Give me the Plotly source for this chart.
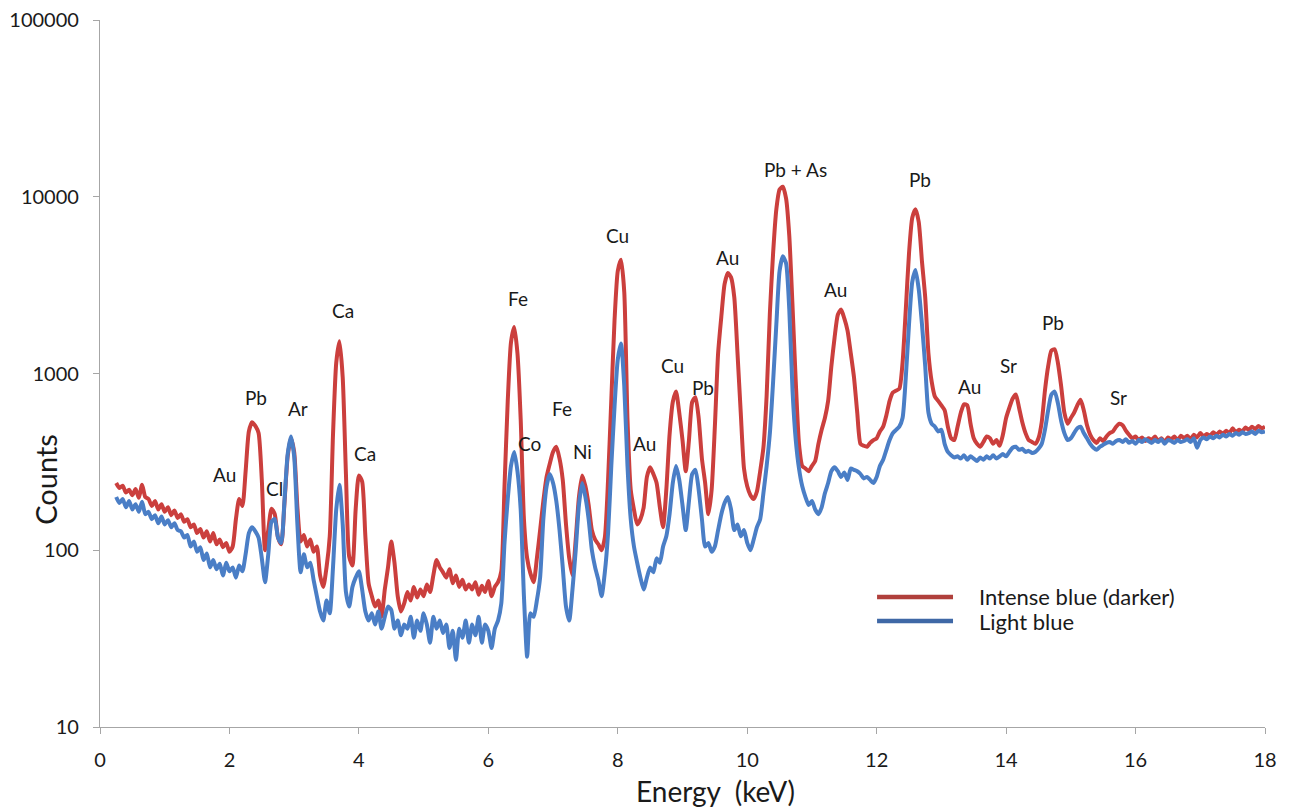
import numpy as np
import plotly.graph_objects as go

# Energy grid (keV), 0.25 .. 18.00 in 0.05 steps
energy = np.round(np.arange(0.25, 18.0001, 0.05), 2)

# Counts — "Intense blue (darker)" (red curve)
intense_counts = [
    240, 225, 232, 212, 220, 205, 222, 198, 235, 200,
    195, 178, 190, 170, 182, 165, 175, 158, 168, 152,
    160, 145, 150, 135, 140, 125, 132, 118, 128, 112,
    125, 108, 115, 104, 110, 98, 105, 150, 195, 178,
    280, 470, 530, 505, 460, 250, 100, 130, 172, 160,
    118, 108, 185, 340, 430, 360, 175, 112, 122, 105,
    115, 98, 105, 72, 62, 80, 120, 450, 1150, 1520,
    950, 270, 92, 82, 170, 265, 245, 120, 65, 55,
    48, 52, 42, 60, 80, 112, 85, 55, 45, 50,
    58, 52, 62, 54, 60, 55, 64, 58, 72, 88,
    80, 75, 70, 78, 65, 72, 62, 68, 60, 64,
    60, 66, 56, 63, 58, 67, 55, 62, 66, 76,
    230, 700, 1500, 1830, 1300, 550, 150, 90, 74, 66,
    90, 130, 190, 260, 310, 360, 385, 330, 250, 140,
    90, 72, 115, 200, 265, 230, 180, 130, 115, 108,
    100, 118, 250, 710, 2000, 3800, 4400, 2900, 550, 220,
    170, 140, 150, 175, 260, 295, 270, 240, 175, 135,
    220, 450, 690, 790, 600, 420, 280, 420, 690, 735,
    560, 330, 240, 160, 220, 500, 1300, 2100, 3200, 3700,
    3500, 2700, 1300, 600, 290, 230, 205, 195, 215, 280,
    380, 750, 2200, 4800, 8500, 11000, 11400, 9800, 6000, 2400,
    900, 400, 300, 290, 280, 300, 320, 400, 480, 560,
    700, 1100, 1600, 2150, 2300, 2050, 1750, 1300, 950, 600,
    400, 390, 385, 405, 420, 430, 470, 500, 580, 700,
    780, 800, 820, 1150, 2300, 4800, 7600, 8500, 7200, 4300,
    2700, 1300, 900, 740, 700, 660, 620, 500, 430, 420,
    500, 600, 670, 660, 520, 430, 400, 385, 410, 440,
    430, 400, 420, 390, 450, 560, 640, 720, 760, 640,
    530, 460, 420, 410, 400, 430, 530, 800, 1100, 1350,
    1370, 1150, 850, 600, 520, 560, 600, 660, 710, 620,
    510, 450, 420, 405, 430, 415, 440, 460, 470, 500,
    520, 510, 475, 450, 430, 440, 420, 435, 415, 430,
    420, 440, 415, 430, 410, 435, 425, 440, 420, 445,
    430, 445, 425, 450, 435, 460, 440, 455, 445, 465,
    450, 470, 455, 475, 460, 490, 465, 480, 470, 495,
    480, 500, 485, 505, 490, 500,
]

# Counts — "Light blue" (blue curve)
light_counts = [
    200, 185, 195, 175, 190, 170, 182, 165, 188, 160,
    165, 150, 158, 142, 155, 140, 148, 135, 142, 130,
    128, 118, 122, 105, 112, 98, 104, 88, 96, 80,
    88, 78, 84, 72, 85, 76, 80, 70, 82, 76,
    95, 125, 135, 128, 118, 90, 66, 95, 145, 150,
    118, 110, 190, 350, 440, 340, 140, 75, 95, 80,
    85, 68, 55, 45, 40, 52, 44, 80, 170, 235,
    140, 58, 48, 62, 70, 76, 60, 45, 40, 44,
    38, 45, 36, 42, 48, 46, 36, 40, 33, 38,
    36, 42, 32, 40, 35, 44, 38, 30, 42, 36,
    40, 34, 38, 28, 35, 24, 36, 32, 40, 30,
    38, 33, 42, 30, 38, 35, 28, 36, 40, 50,
    110, 195, 300, 360, 280, 170, 55, 25, 44, 42,
    52, 70, 150, 230, 270, 240, 190, 130, 80, 48,
    40, 60, 100, 180, 240, 200, 150, 100, 80, 68,
    55, 75, 125, 300, 650, 1200, 1480, 850, 300, 150,
    105, 85, 70, 60, 70, 80, 75, 90, 85, 105,
    120, 160, 240, 300, 250, 180, 130, 190, 270, 285,
    220, 150, 105, 110, 98, 105, 130, 160, 185, 200,
    170, 130, 140, 120, 130, 110, 100, 115, 135, 150,
    210, 300, 460, 900, 1900, 3800, 4600, 4200, 2300, 800,
    420, 290, 230, 200, 180, 190, 170, 160, 175, 210,
    240, 280, 295, 280, 260, 275, 250, 290, 285, 280,
    270, 255, 260, 250, 240, 260, 300, 325, 370, 420,
    460, 480, 500, 560, 950, 1900, 3300, 3850, 3000, 1900,
    1100, 600, 520, 500, 470, 480, 400, 360, 345, 335,
    340, 330, 345, 325, 340, 330, 320, 335, 325, 340,
    330, 345, 330, 340, 350, 340, 360, 380, 385, 370,
    375, 360, 365, 355, 360, 375, 400, 480, 620, 760,
    790, 680, 540, 460, 420, 430, 460, 490, 500, 460,
    430, 400, 380, 370, 385, 395, 405, 410, 400, 415,
    420, 410, 425, 405, 415, 400, 420, 410, 425, 415,
    405, 420, 410, 425, 400, 420, 415, 405, 420, 410,
    415, 425, 410, 430, 380, 420, 435, 425, 440, 430,
    445, 435, 450, 440, 455, 445, 460, 450, 465, 455,
    460, 470, 455, 475, 465, 470,
]

assert len(intense_counts) == len(energy) == len(light_counts)

# Peak labels
peak_labels = ["Au", "Pb", "Cl", "Ar", "Ca", "Ca", "Fe", "Co", "Fe", "Ni", "Cu", "Au",
               "Cu", "Pb", "Au", "Pb + As", "Au", "Pb", "Au", "Sr", "Pb", "Sr"]
label_energy = [1.92, 2.41, 2.70, 3.06, 3.75, 4.09, 6.46, 6.64, 7.14, 7.45, 7.99, 8.42,
                8.84, 9.32, 9.70, 10.75, 11.37, 12.67, 13.43, 14.03, 14.72, 15.73]
label_counts = [267, 736, 225, 630, 2258, 355, 2640, 404, 630, 360, 6000, 404,
                1103, 828, 4560, 14350, 3006, 12440, 839, 1103, 1931, 727]

series_names = ["Intense blue (darker)", "Light blue"]
series_colors = ["#CB3F3D", "#4A7EC6"]
legend_colors = ["#B0403C", "#3F68A6"]

FONT = "Lato, 'Open Sans', sans-serif"
TXT = "#1a1a1a"

fig = go.Figure()
fig.add_trace(go.Scatter(x=energy, y=intense_counts, mode="lines", name=series_names[0],
                         line=dict(color=series_colors[0], width=4, shape="spline", smoothing=0.6),
                         showlegend=False))
fig.add_trace(go.Scatter(x=energy, y=light_counts, mode="lines", name=series_names[1],
                         line=dict(color=series_colors[1], width=4, shape="spline", smoothing=0.6),
                         showlegend=False))

annotations = []
for lab, ex, cy in zip(peak_labels, label_energy, label_counts):
    annotations.append(dict(x=ex, y=float(np.log10(cy)), xref="x", yref="y", text=lab,
                            showarrow=False, font=dict(family=FONT, size=19, color=TXT),
                            xanchor="center", yanchor="middle"))

# Manual legend (line samples + labels)
leg_x0, leg_x1, leg_tx = 0.667, 0.7322, 0.7528
leg_ys = [0.1839, 0.1499]
shapes = []
for name, col, ly in zip(series_names, legend_colors, leg_ys):
    shapes.append(dict(type="line", xref="paper", yref="paper", x0=leg_x0, x1=leg_x1,
                       y0=ly, y1=ly, line=dict(color=col, width=4.5)))
    annotations.append(dict(x=leg_tx, y=ly, xref="paper", yref="paper", text=name,
                            showarrow=False, xanchor="left", yanchor="middle",
                            font=dict(family=FONT, size=22, color=TXT)))

# Axis titles
annotations.append(dict(x=-0.0464, y=0.351, xref="paper", yref="paper", text="Counts",
                        textangle=-90, showarrow=False, xanchor="center", yanchor="middle",
                        font=dict(family=FONT, size=29, color=TXT)))
annotations.append(dict(x=0.528, y=-0.0905, xref="paper", yref="paper", text="Energy\u00a0 (keV)",
                        showarrow=False, xanchor="center", yanchor="middle",
                        font=dict(family=FONT, size=28, color=TXT)))

fig.update_layout(
    width=1289, height=807,
    margin=dict(l=100, r=24, t=20, b=80),
    paper_bgcolor="white", plot_bgcolor="white",
    font=dict(family=FONT, color=TXT),
    annotations=annotations, shapes=shapes,
    showlegend=False,
)
fig.update_xaxes(range=[0, 18], tickvals=[0, 2, 4, 6, 8, 10, 12, 14, 16, 18], automargin=False,
                 showgrid=False, zeroline=False, showline=True, linecolor="#A6A6A6", linewidth=1.2,
                 ticks="outside", ticklen=6, tickcolor="#A6A6A6", ticklabelstandoff=9,
                 tickfont=dict(family=FONT, size=20, color=TXT))
fig.update_yaxes(type="log", range=[1, 5], tickvals=[10, 100, 1000, 10000, 100000],
                 ticktext=["10", "100", "1000", "10000", "100000"], automargin=False,
                 showgrid=False, zeroline=False, showline=True, linecolor="#A6A6A6", linewidth=1.2,
                 ticks="outside", ticklen=6, tickcolor="#A6A6A6", ticklabelstandoff=10,
                 tickfont=dict(family=FONT, size=20, color=TXT))

fig.write_html("out.html")
